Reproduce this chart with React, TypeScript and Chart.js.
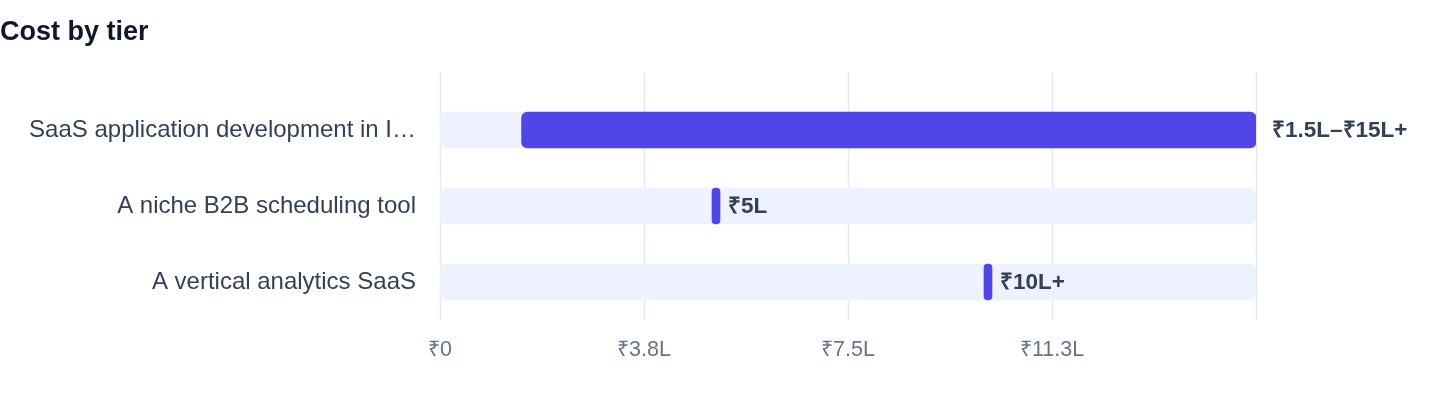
import React, { useEffect, useRef } from 'react'
import Chart from 'chart.js/auto'

const categories = [
  'SaaS application development in I…',
  'A niche B2B scheduling tool',
  'A vertical analytics SaaS',
]
// cost range per tier, in lakh rupees
const costLow = [1.5, 5, 10]
const costHigh = [15, 5, 10]
const rangeLabels = ['₹1.5L–₹15L+', '₹5L', '₹10L+']
const axisMax = 15
const xTickLabels = ['₹0', '₹3.8L', '₹7.5L', '₹11.3L', '']

const FONT = '"Liberation Sans", Arial, Helvetica, sans-serif'

// vertical grid lines, taller than the plot area as in the original
const gridPlugin = {
  id: 'tallGrid',
  beforeDatasetsDraw(chart: any) {
    const { ctx, chartArea, scales } = chart
    ctx.save()
    ctx.strokeStyle = '#e2e8f0'
    ctx.lineWidth = 1.5
    scales.x.ticks.forEach((t: any) => {
      const x = Math.round(scales.x.getPixelForValue(t.value)) + 0.5
      ctx.beginPath()
      ctx.moveTo(x, chartArea.top - 20)
      ctx.lineTo(x, chartArea.bottom)
      ctx.stroke()
    })
    ctx.restore()
  },
}

const valueLabels = {
  id: 'valueLabels',
  afterDatasetsDraw(chart: any) {
    const { ctx, scales } = chart
    const meta = chart.getDatasetMeta(1)
    ctx.save()
    ctx.font = `bold 22.5px ${FONT}`
    ctx.fillStyle = '#334155'
    ctx.textBaseline = 'middle'
    meta.data.forEach((bar: any, i: number) => {
      const x = scales.x.getPixelForValue(costHigh[i]) + 16
      ctx.fillText(rangeLabels[i], x, bar.y + 1)
    })
    ctx.restore()
  },
}

const App: React.FC = () => {
  const chartRef = useRef<HTMLCanvasElement | null>(null)

  useEffect(() => {
    document.body.style.margin = '0'
    if (!chartRef.current) return
    const ctx = chartRef.current.getContext('2d')
    if (!ctx) return

    const chart = new Chart(ctx, {
      type: 'bar',
      data: {
        labels: categories,
        datasets: [
          {
            label: 'track',
            data: categories.map(() => [0, axisMax]),
            backgroundColor: '#eef2ff',
            borderRadius: 8,
            borderSkipped: false,
            barThickness: 36,
            grouped: false,
            order: 2,
          },
          {
            label: 'cost',
            data: costLow.map((lo, i) => [lo, costHigh[i]]),
            backgroundColor: '#4f46e5',
            borderRadius: 6,
            borderSkipped: false,
            barThickness: 36,
            minBarLength: 8,
            grouped: false,
            order: 1,
          },
        ],
      },
      options: {
        indexAxis: 'y',
        animation: false,
        responsive: true,
        maintainAspectRatio: false,
        layout: { padding: { top: 92, right: 184, bottom: 28, left: 0 } },
        plugins: {
          legend: { display: false },
          tooltip: { enabled: false },
        },
        scales: {
          x: {
            min: 0,
            max: axisMax,
            ticks: {
              stepSize: 3.75,
              padding: 17,
              color: '#64748b',
              font: { family: FONT, size: 21.5 },
              callback: (_v: any, i: number) => xTickLabels[i],
            },
            grid: { display: false, drawTicks: false },
            border: { display: false },
            afterFit: (s: any) => {
              s.height = 60
            },
          },
          y: {
            ticks: {
              padding: 24,
              color: '#334155',
              font: { family: FONT, size: 24 },
            },
            grid: { display: false, drawTicks: false },
            border: { display: false },
            afterFit: (s: any) => {
              s.width = 440
            },
          },
        },
      },
      plugins: [gridPlugin, valueLabels],
    })

    return () => {
      chart.destroy()
    }
  }, [])

  return (
    <div style={{ position: 'relative', width: '1440px', height: '408px' }}>
      <div
        style={{
          position: 'absolute',
          left: 0,
          top: 15,
          font: `bold 27px ${FONT}`,
          color: '#0f172a',
          lineHeight: '32px',
        }}
      >
        Cost by tier
      </div>
      <canvas ref={chartRef} />
    </div>
  )
}

export default App
